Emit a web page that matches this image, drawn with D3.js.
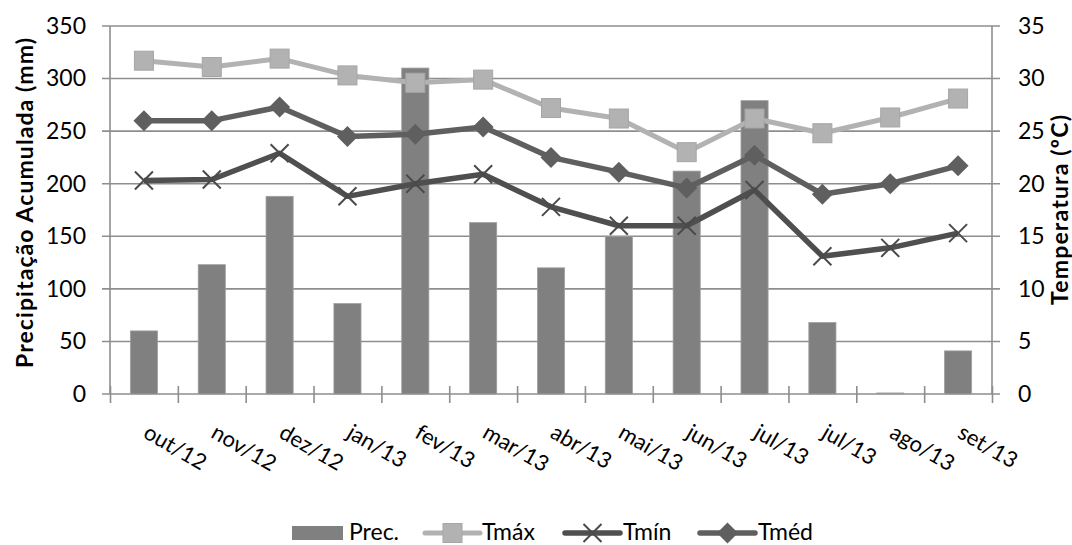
<!DOCTYPE html>
<html>
<head>
<meta charset="utf-8">
<script src="https://cdn.jsdelivr.net/npm/d3@7"></script>
<style>
  html, body { margin: 0; padding: 0; background: #fff; }
  svg { display: block; font-family: Lato, "Open Sans", sans-serif; }
</style>
</head>
<body>
<svg id="chart" width="1072" height="545"></svg>
<script>
// Monthly climate series: accumulated rainfall (mm) and temperatures (ºC)
const categories = ["out/12", "nov/12", "dez/12", "jan/13", "fev/13", "mar/13", "abr/13",
                    "mai/13", "jun/13", "jul/13", "jul/13", "ago/13", "set/13"];
const prec = [60, 123, 188, 86, 310, 163, 120, 150, 212, 279, 68, 1, 41];
const tmax = [31.7, 31.1, 31.9, 30.3, 29.6, 29.9, 27.2, 26.2, 23.0, 26.2, 24.8, 26.3, 28.1];
const tmin = [20.3, 20.4, 22.9, 18.8, 20.0, 20.9, 17.8, 16.0, 16.0, 19.4, 13.1, 13.9, 15.3];
const tmed = [26.0, 26.0, 27.3, 24.5, 24.7, 25.4, 22.5, 21.1, 19.6, 22.7, 19.0, 20.0, 21.7];
const precTicks = [0, 50, 100, 150, 200, 250, 300, 350];
const tempTicks = [0, 5, 10, 15, 20, 25, 30, 35];

const svg = d3.select("#chart");
const plotLeft = 110, plotRight = 992, plotTop = 26, plotBottom = 394;
const gridColor = "#8e8e8e";

const idx = d3.range(categories.length);
const x = d3.scaleBand().domain(idx).range([plotLeft, plotRight]).paddingInner(0.6).paddingOuter(0.3);
const xEdge = d3.scaleLinear().domain([0, categories.length]).range([plotLeft, plotRight]);
const yL = d3.scaleLinear().domain([0, 350]).range([plotBottom, plotTop]);
const yR = d3.scaleLinear().domain([0, 35]).range([plotBottom, plotTop]);
const cx = i => x(i) + x.bandwidth() / 2;

// horizontal gridlines with outward ticks on both sides
svg.append("g").selectAll("line").data(precTicks).join("line")
  .attr("x1", plotLeft - 8).attr("x2", plotRight + 8)
  .attr("y1", d => yL(d)).attr("y2", d => yL(d))
  .attr("stroke", gridColor).attr("stroke-width", 1.6);

// vertical axis lines
[plotLeft, plotRight].forEach(px => {
  svg.append("line").attr("x1", px).attr("x2", px).attr("y1", plotTop).attr("y2", plotBottom)
    .attr("stroke", gridColor).attr("stroke-width", 1.6);
});

// category boundary ticks crossing the baseline
const xAxis = svg.append("g").attr("transform", `translate(0,${plotBottom + 9})`)
  .call(d3.axisBottom(xEdge).tickValues(d3.range(categories.length + 1)).tickSize(17).tickFormat(""));
xAxis.select(".domain").remove();
xAxis.selectAll(".tick line").attr("stroke", gridColor).attr("stroke-width", 1.6)
  .attr("y1", -17).attr("y2", 0);

// left tick labels
const yAxisL = svg.append("g").attr("transform", `translate(${plotLeft},0)`)
  .call(d3.axisLeft(yL).tickValues(precTicks).tickSize(0).tickPadding(24));
yAxisL.select(".domain").remove();
yAxisL.selectAll("text").attr("font-size", 23).attr("font-family", "Lato").attr("fill", "#000");

// right tick labels
const yAxisR = svg.append("g").attr("transform", `translate(${plotRight},0)`)
  .call(d3.axisRight(yR).tickValues(tempTicks).tickSize(0).tickPadding(26));
yAxisR.select(".domain").remove();
yAxisR.selectAll("text").attr("font-size", 23).attr("font-family", "Lato").attr("fill", "#000");

// rotated category labels
svg.append("g").selectAll("text").data(idx).join("text")
  .attr("transform", i => `translate(${cx(i) + 6},${plotBottom + 29}) rotate(30)`)
  .attr("dy", "0.72em")
  .attr("font-size", 22).attr("fill", "#000")
  .text(i => categories[i]);

// axis titles
svg.append("text").attr("transform", `translate(33,203) rotate(-90)`)
  .attr("text-anchor", "middle").attr("font-size", 23).attr("font-weight", "bold")
  .attr("textLength", 330).attr("lengthAdjust", "spacing")
  .text("Precipitação Acumulada (mm)");
svg.append("text").attr("transform", `translate(1068,210) rotate(-90)`)
  .attr("text-anchor", "middle").attr("font-size", 23).attr("font-weight", "bold")
  .attr("textLength", 190).attr("lengthAdjust", "spacing")
  .text("Temperatura (ºC)");

// rainfall bars
svg.append("g").selectAll("rect").data(idx).join("rect")
  .attr("x", i => x(i)).attr("width", x.bandwidth())
  .attr("y", i => yL(prec[i])).attr("height", i => plotBottom - yL(prec[i]))
  .attr("fill", "#808080").attr("stroke", "#a0a0a0").attr("stroke-width", 0.8);

// marker shapes
function square(g, color, s) {
  g.append("rect").attr("x", -s / 2).attr("y", -s / 2).attr("width", s).attr("height", s)
    .attr("fill", color).attr("stroke", "#a6a6a6").attr("stroke-width", 1);
}
function diamond(g, color, s) {
  const h = s / 2;
  g.append("path").attr("d", `M0,${-h}L${h},0L0,${h}L${-h},0Z`).attr("fill", color);
}
function cross(g, color, s) {
  const h = s / 2;
  g.append("path").attr("d", `M${-h},${-h}L${h},${h}M${-h},${h}L${h},${-h}`)
    .attr("stroke", color).attr("stroke-width", 2).attr("fill", "none");
}

const series = [
  { name: "Tmáx", values: tmax, color: "#b2b2b2", width: 5, marker: (g) => square(g, "#b2b2b2", 19) },
  { name: "Tmín", values: tmin, color: "#4f4f4f", width: 5.5, marker: (g) => cross(g, "#4a4a4a", 18) },
  { name: "Tméd", values: tmed, color: "#5f5f5f", width: 5.5, marker: (g) => diamond(g, "#5f5f5f", 21) }
];

const line = d3.line().x((d, i) => cx(i)).y(d => yR(d));
series.forEach(s => {
  svg.append("path").datum(s.values).attr("d", line)
    .attr("fill", "none").attr("stroke", s.color).attr("stroke-width", s.width)
    .attr("stroke-linejoin", "round");
  svg.append("g").selectAll("g").data(s.values).join("g")
    .attr("transform", (d, i) => `translate(${cx(i)},${yR(d)})`)
    .each(function () { s.marker(d3.select(this)); });
});

// legend
const ly = 533, lb = 540;
const legend = svg.append("g").attr("font-size", 23).attr("fill", "#000");
legend.append("rect").attr("x", 292).attr("y", ly - 7).attr("width", 51).attr("height", 14).attr("fill", "#808080");
legend.append("text").attr("x", 349).attr("y", lb).text("Prec.");
const legItems = [
  { s: series[0], x0: 425, x1: 480, tx: 482 },
  { s: series[1], x0: 565, x1: 620, tx: 623 },
  { s: series[2], x0: 700, x1: 755, tx: 758 }
];
legItems.forEach(it => {
  legend.append("line").attr("x1", it.x0).attr("x2", it.x1).attr("y1", ly).attr("y2", ly)
    .attr("stroke", it.s.color).attr("stroke-width", it.s.width).attr("stroke-linecap", "round");
  const m = legend.append("g").attr("transform", `translate(${(it.x0 + it.x1) / 2},${ly})`);
  it.s.marker(m);
  legend.append("text").attr("x", it.tx).attr("y", lb).text(it.s.name);
});
</script>
</body>
</html>
